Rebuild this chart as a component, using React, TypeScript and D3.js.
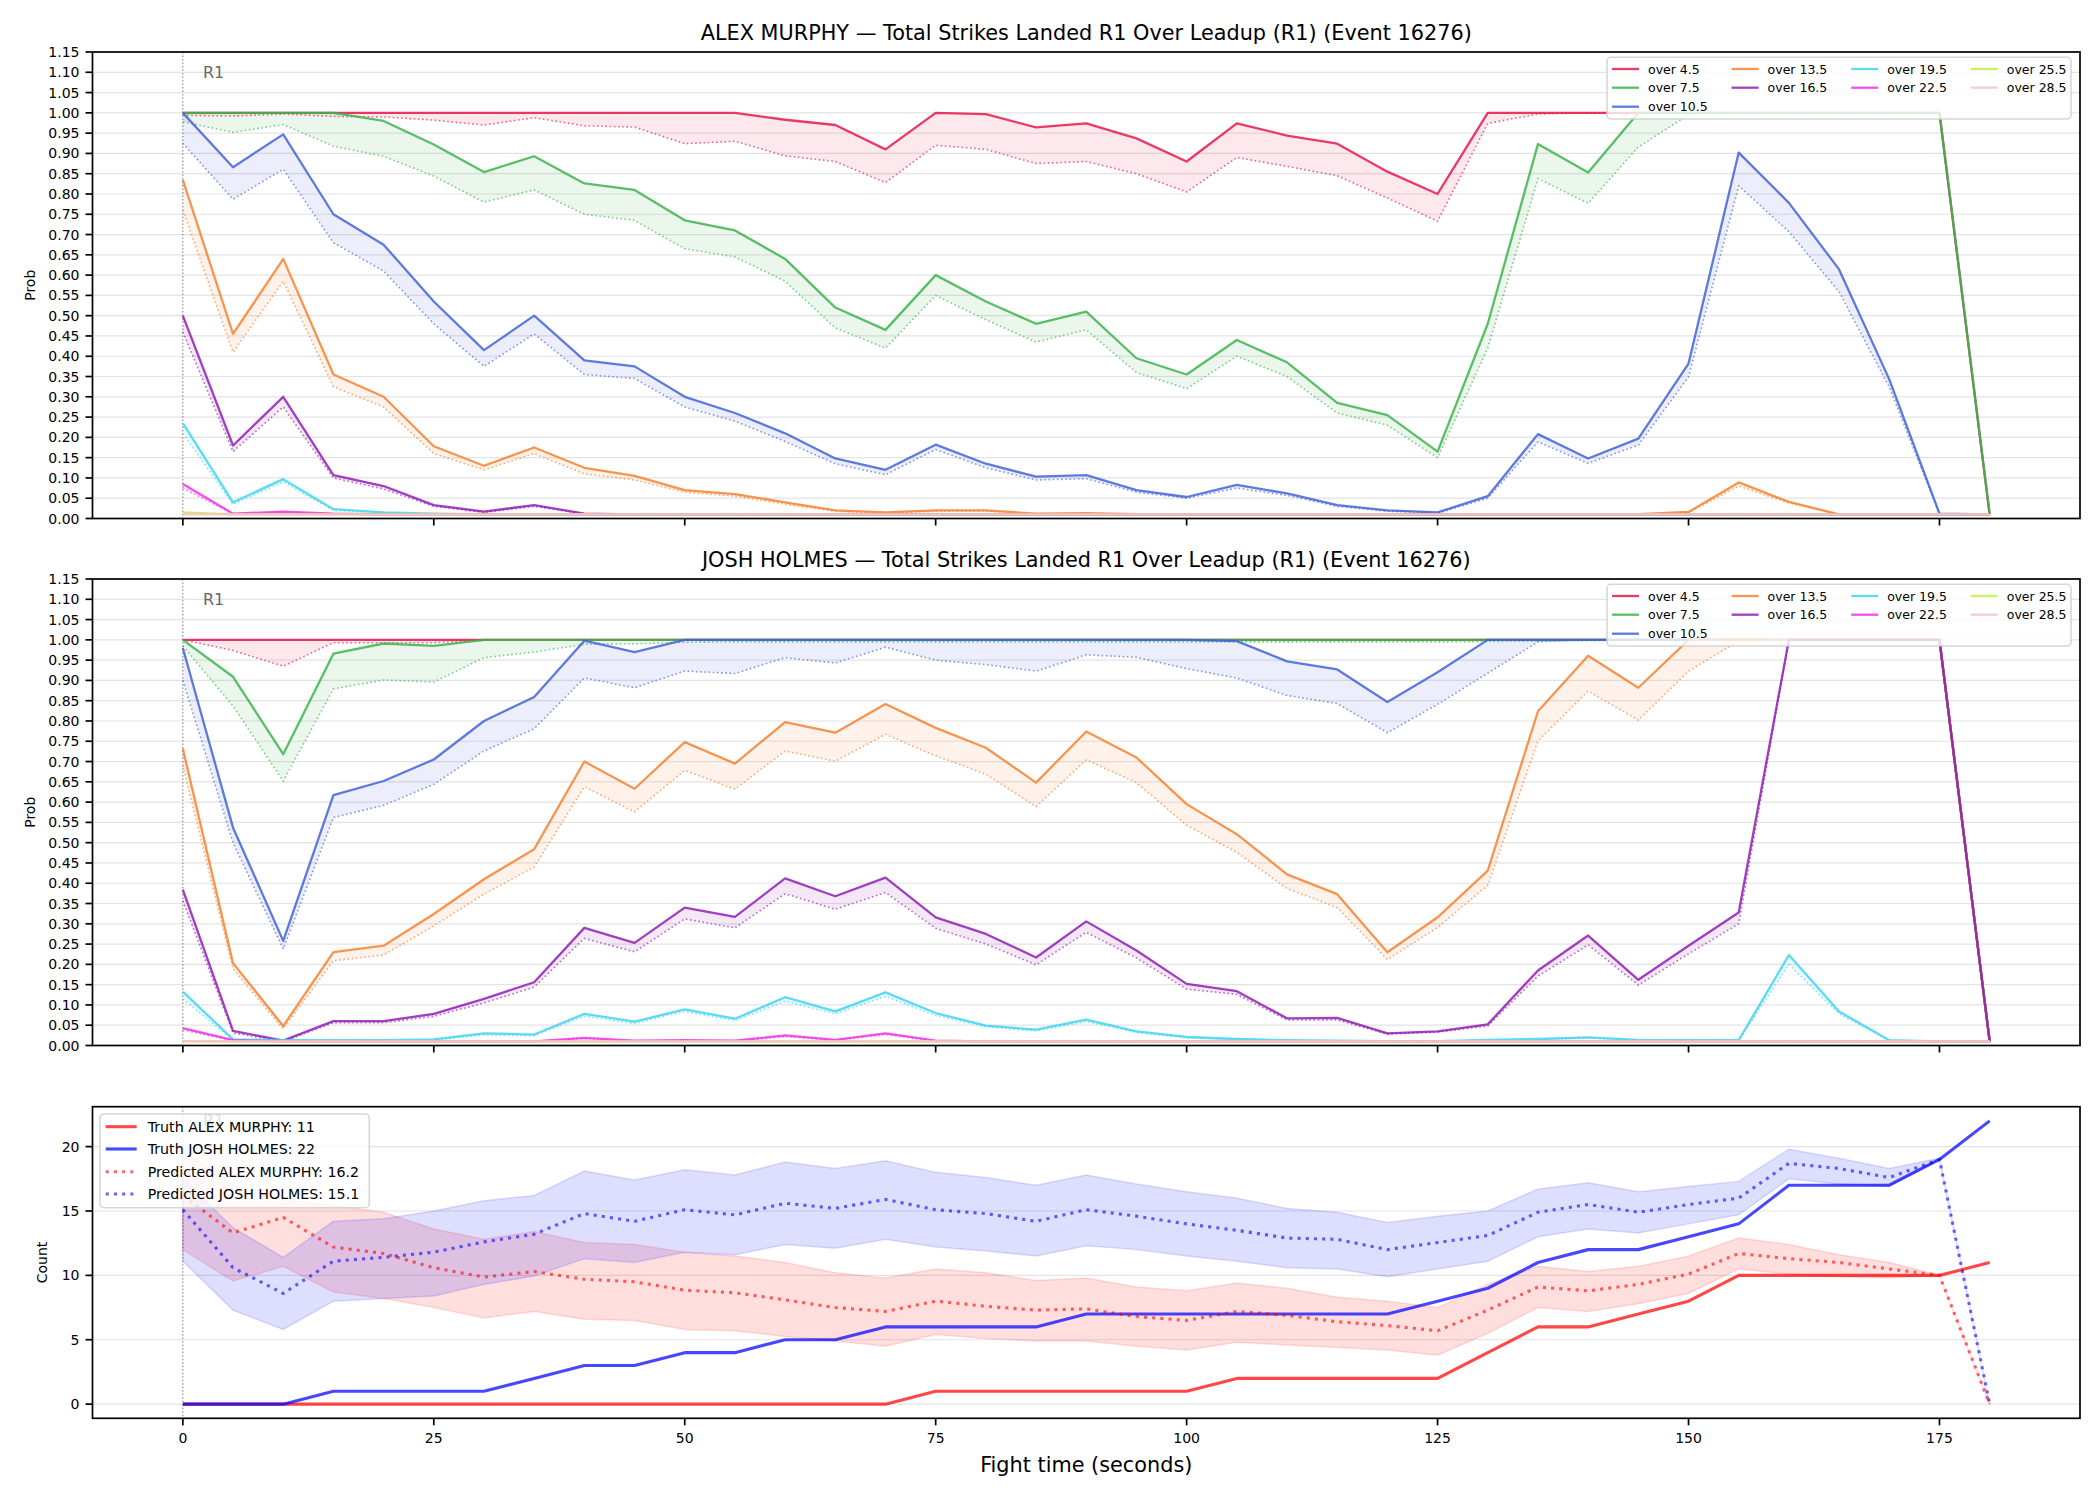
import React from "react";
import * as d3 from "d3";

// ---- sampling grid (seconds into round 1) ----
const times = [0, 5, 10, 15, 20, 25, 30, 35, 40, 45, 50, 55, 60, 65, 70, 75, 80, 85, 90, 95, 100, 105, 110, 115, 120, 125, 130, 135, 140, 145, 150, 155, 160, 165, 170, 175, 180];

const thresholdLabels = ["over 4.5", "over 7.5", "over 10.5", "over 13.5", "over 16.5", "over 19.5", "over 22.5", "over 25.5", "over 28.5"];
const thresholdColors = ["#e6194b", "#3cb44b", "#4363d8", "#f58231", "#911eb4", "#42d4f4", "#f032e6", "#bfef45", "#fabed4"];

const probTicks = [0, 0.05, 0.1, 0.15, 0.2, 0.25, 0.3, 0.35, 0.4, 0.45, 0.5, 0.55, 0.6, 0.65, 0.7, 0.75, 0.8, 0.85, 0.9, 0.95, 1.0, 1.05, 1.1, 1.15];
const countTicks = [0, 5, 10, 15, 20];
const timeTicks = [0, 25, 50, 75, 100, 125, 150, 175];

// ---- ALEX MURPHY: P(over line) and lower bound ----
const murphyOver45 = [1, 1, 1, 1, 1, 1, 1, 1, 1, 1, 1, 1, 0.983, 0.97, 0.91, 1, 0.997, 0.964, 0.974, 0.937, 0.88, 0.974, 0.944, 0.924, 0.855, 0.8, 1, 1, 1, 1, 1, 1, 1, 1, 1, 1, 0.01];
const murphyOver45Lo = [0.994, 0.992, 0.997, 0.991, 0.99, 0.982, 0.97, 0.988, 0.968, 0.965, 0.924, 0.93, 0.894, 0.88, 0.828, 0.92, 0.91, 0.875, 0.88, 0.85, 0.805, 0.89, 0.868, 0.845, 0.79, 0.733, 0.974, 0.997, 1, 1, 1, 1, 1, 1, 1, 1, 0.01];
const murphyOver75 = [1, 1, 1, 1, 0.98, 0.922, 0.854, 0.893, 0.826, 0.81, 0.735, 0.71, 0.64, 0.52, 0.465, 0.6, 0.535, 0.48, 0.51, 0.395, 0.355, 0.44, 0.385, 0.285, 0.255, 0.165, 0.48, 0.923, 0.853, 1, 1, 1, 1, 1, 1, 1, 0.01];
const murphyOver75Lo = [0.978, 0.952, 0.971, 0.918, 0.893, 0.844, 0.78, 0.81, 0.75, 0.735, 0.665, 0.645, 0.585, 0.47, 0.42, 0.55, 0.49, 0.435, 0.465, 0.36, 0.32, 0.4, 0.35, 0.26, 0.23, 0.15, 0.42, 0.838, 0.777, 0.916, 0.995, 1, 1, 1, 1, 1, 0.01];
const murphyOver105 = [1, 0.866, 0.947, 0.75, 0.675, 0.535, 0.415, 0.5, 0.39, 0.375, 0.3, 0.26, 0.21, 0.148, 0.12, 0.182, 0.135, 0.103, 0.107, 0.07, 0.053, 0.083, 0.062, 0.033, 0.02, 0.015, 0.055, 0.208, 0.148, 0.197, 0.382, 0.902, 0.778, 0.614, 0.343, 0.012, 0.01];
const murphyOver105Lo = [0.925, 0.787, 0.861, 0.68, 0.61, 0.48, 0.375, 0.455, 0.355, 0.345, 0.275, 0.24, 0.19, 0.135, 0.108, 0.17, 0.125, 0.095, 0.098, 0.065, 0.05, 0.075, 0.057, 0.03, 0.018, 0.013, 0.05, 0.189, 0.136, 0.181, 0.349, 0.82, 0.707, 0.559, 0.324, 0.011, 0.01];
const murphyOver135 = [0.835, 0.455, 0.64, 0.355, 0.3, 0.178, 0.13, 0.175, 0.125, 0.105, 0.07, 0.06, 0.04, 0.02, 0.015, 0.02, 0.02, 0.012, 0.013, 0.011, 0.011, 0.011, 0.01, 0.01, 0.01, 0.01, 0.01, 0.01, 0.01, 0.011, 0.016, 0.089, 0.041, 0.01, 0.01, 0.01, 0.01];
const murphyOver135Lo = [0.76, 0.41, 0.585, 0.325, 0.275, 0.16, 0.12, 0.16, 0.11, 0.095, 0.065, 0.055, 0.035, 0.018, 0.013, 0.018, 0.018, 0.011, 0.012, 0.01, 0.01, 0.01, 0.01, 0.01, 0.01, 0.01, 0.01, 0.01, 0.01, 0.01, 0.014, 0.08, 0.038, 0.01, 0.01, 0.01, 0.01];
const murphyOver165 = [0.5, 0.18, 0.3, 0.107, 0.08, 0.033, 0.017, 0.033, 0.012, 0.01, 0.01, 0.01, 0.01, 0.01, 0.01, 0.01, 0.01, 0.01, 0.01, 0.01, 0.01, 0.01, 0.01, 0.01, 0.01, 0.01, 0.01, 0.01, 0.01, 0.01, 0.01, 0.01, 0.01, 0.01, 0.01, 0.01, 0.01];
const murphyOver165Lo = [0.46, 0.165, 0.275, 0.1, 0.073, 0.03, 0.015, 0.03, 0.011, 0.01, 0.01, 0.01, 0.01, 0.01, 0.01, 0.01, 0.01, 0.01, 0.01, 0.01, 0.01, 0.01, 0.01, 0.01, 0.01, 0.01, 0.01, 0.01, 0.01, 0.01, 0.01, 0.01, 0.01, 0.01, 0.01, 0.01, 0.01];
const murphyOver195 = [0.235, 0.04, 0.097, 0.023, 0.015, 0.012, 0.01, 0.01, 0.01, 0.01, 0.01, 0.01, 0.01, 0.01, 0.01, 0.01, 0.01, 0.01, 0.01, 0.01, 0.01, 0.01, 0.01, 0.01, 0.01, 0.01, 0.01, 0.01, 0.01, 0.01, 0.01, 0.01, 0.01, 0.01, 0.01, 0.01, 0.01];
const murphyOver195Lo = [0.21, 0.035, 0.09, 0.02, 0.013, 0.011, 0.01, 0.01, 0.01, 0.01, 0.01, 0.01, 0.01, 0.01, 0.01, 0.01, 0.01, 0.01, 0.01, 0.01, 0.01, 0.01, 0.01, 0.01, 0.01, 0.01, 0.01, 0.01, 0.01, 0.01, 0.01, 0.01, 0.01, 0.01, 0.01, 0.01, 0.01];
const murphyOver225 = [0.085, 0.012, 0.017, 0.012, 0.01, 0.01, 0.01, 0.01, 0.01, 0.01, 0.01, 0.01, 0.01, 0.01, 0.01, 0.01, 0.01, 0.01, 0.01, 0.01, 0.01, 0.01, 0.01, 0.01, 0.01, 0.01, 0.01, 0.01, 0.01, 0.01, 0.01, 0.01, 0.01, 0.01, 0.01, 0.01, 0.01];
const murphyOver225Lo = [0.075, 0.011, 0.015, 0.011, 0.01, 0.01, 0.01, 0.01, 0.01, 0.01, 0.01, 0.01, 0.01, 0.01, 0.01, 0.01, 0.01, 0.01, 0.01, 0.01, 0.01, 0.01, 0.01, 0.01, 0.01, 0.01, 0.01, 0.01, 0.01, 0.01, 0.01, 0.01, 0.01, 0.01, 0.01, 0.01, 0.01];
const murphyOver255 = [0.015, 0.01, 0.01, 0.01, 0.01, 0.01, 0.01, 0.01, 0.01, 0.01, 0.01, 0.01, 0.01, 0.01, 0.01, 0.01, 0.01, 0.01, 0.01, 0.01, 0.01, 0.01, 0.01, 0.01, 0.01, 0.01, 0.01, 0.01, 0.01, 0.01, 0.01, 0.01, 0.01, 0.01, 0.01, 0.01, 0.01];
const murphyOver255Lo = [0.013, 0.01, 0.01, 0.01, 0.01, 0.01, 0.01, 0.01, 0.01, 0.01, 0.01, 0.01, 0.01, 0.01, 0.01, 0.01, 0.01, 0.01, 0.01, 0.01, 0.01, 0.01, 0.01, 0.01, 0.01, 0.01, 0.01, 0.01, 0.01, 0.01, 0.01, 0.01, 0.01, 0.01, 0.01, 0.01, 0.01];
const murphyOver285 = [0.01, 0.01, 0.01, 0.01, 0.01, 0.01, 0.01, 0.01, 0.01, 0.01, 0.01, 0.01, 0.01, 0.01, 0.01, 0.01, 0.01, 0.01, 0.01, 0.01, 0.01, 0.01, 0.01, 0.01, 0.01, 0.01, 0.01, 0.01, 0.01, 0.01, 0.01, 0.01, 0.01, 0.01, 0.01, 0.01, 0.01];
const murphyOver285Lo = [0.01, 0.01, 0.01, 0.01, 0.01, 0.01, 0.01, 0.01, 0.01, 0.01, 0.01, 0.01, 0.01, 0.01, 0.01, 0.01, 0.01, 0.01, 0.01, 0.01, 0.01, 0.01, 0.01, 0.01, 0.01, 0.01, 0.01, 0.01, 0.01, 0.01, 0.01, 0.01, 0.01, 0.01, 0.01, 0.01, 0.01];

// ---- JOSH HOLMES: P(over line) and lower bound ----
const holmesOver45 = [1, 1, 1, 1, 1, 1, 1, 1, 1, 1, 1, 1, 1, 1, 1, 1, 1, 1, 1, 1, 1, 1, 1, 1, 1, 1, 1, 1, 1, 1, 1, 1, 1, 1, 1, 1, 0.01];
const holmesOver45Lo = [1, 0.974, 0.935, 0.993, 0.993, 0.993, 0.999, 1, 1, 1, 1, 1, 1, 1, 1, 1, 1, 1, 1, 1, 1, 1, 1, 1, 1, 1, 1, 1, 1, 1, 1, 1, 1, 1, 1, 1, 0.01];
const holmesOver75 = [1, 0.909, 0.718, 0.966, 0.991, 0.985, 1, 1, 1, 1, 1, 1, 1, 1, 1, 1, 1, 1, 1, 1, 1, 1, 1, 1, 1, 1, 1, 1, 1, 1, 1, 1, 1, 1, 1, 1, 0.01];
const holmesOver75Lo = [0.985, 0.837, 0.652, 0.879, 0.901, 0.896, 0.956, 0.97, 0.989, 0.99, 0.994, 0.995, 0.995, 0.995, 0.995, 0.995, 0.995, 0.995, 0.995, 0.995, 0.995, 0.995, 0.995, 0.995, 0.995, 0.995, 0.996, 0.997, 0.998, 0.999, 1, 1, 1, 1, 1, 1, 0.01];
const holmesOver105 = [0.98, 0.537, 0.258, 0.617, 0.652, 0.705, 0.8, 0.859, 0.998, 0.97, 1, 1, 1, 1, 1, 1, 1, 1, 1, 1, 1, 0.997, 0.947, 0.927, 0.847, 0.92, 1, 1, 1, 1, 1, 1, 1, 1, 1, 1, 0.01];
const holmesOver105Lo = [0.9, 0.5, 0.238, 0.562, 0.592, 0.644, 0.726, 0.781, 0.906, 0.882, 0.923, 0.917, 0.956, 0.943, 0.982, 0.95, 0.939, 0.923, 0.963, 0.957, 0.929, 0.906, 0.863, 0.843, 0.771, 0.841, 0.918, 0.995, 1, 1, 1, 1, 1, 1, 1, 1, 0.01];
const holmesOver135 = [0.732, 0.203, 0.048, 0.23, 0.246, 0.324, 0.41, 0.484, 0.7, 0.633, 0.748, 0.695, 0.797, 0.771, 0.842, 0.783, 0.734, 0.648, 0.774, 0.71, 0.595, 0.521, 0.422, 0.373, 0.23, 0.316, 0.431, 0.824, 0.961, 0.882, 1, 1, 1, 1, 1, 1, 0.01];
const holmesOver135Lo = [0.69, 0.189, 0.041, 0.209, 0.223, 0.295, 0.373, 0.44, 0.638, 0.576, 0.678, 0.632, 0.726, 0.701, 0.767, 0.714, 0.669, 0.589, 0.704, 0.648, 0.543, 0.476, 0.387, 0.34, 0.212, 0.291, 0.395, 0.751, 0.874, 0.802, 0.923, 0.997, 1, 1, 1, 1, 0.01];
const holmesOver165 = [0.384, 0.036, 0.012, 0.06, 0.06, 0.078, 0.115, 0.156, 0.29, 0.253, 0.34, 0.317, 0.412, 0.368, 0.414, 0.316, 0.275, 0.217, 0.306, 0.234, 0.152, 0.134, 0.067, 0.068, 0.03, 0.035, 0.052, 0.185, 0.271, 0.162, 0.246, 0.328, 1, 1, 1, 1, 0.01];
const holmesOver165Lo = [0.357, 0.031, 0.01, 0.056, 0.056, 0.072, 0.105, 0.144, 0.264, 0.231, 0.312, 0.29, 0.374, 0.336, 0.377, 0.289, 0.25, 0.199, 0.279, 0.216, 0.139, 0.126, 0.063, 0.063, 0.028, 0.033, 0.048, 0.171, 0.248, 0.149, 0.226, 0.3, 1, 1, 1, 1, 0.01];
const holmesOver195 = [0.133, 0.015, 0.013, 0.013, 0.013, 0.015, 0.03, 0.027, 0.078, 0.059, 0.089, 0.066, 0.119, 0.084, 0.131, 0.08, 0.049, 0.039, 0.064, 0.035, 0.021, 0.016, 0.013, 0.012, 0.011, 0.011, 0.014, 0.016, 0.02, 0.014, 0.013, 0.013, 0.223, 0.084, 0.013, 0.01, 0.01];
const holmesOver195Lo = [0.115, 0.013, 0.011, 0.012, 0.012, 0.013, 0.026, 0.024, 0.072, 0.054, 0.084, 0.061, 0.109, 0.078, 0.121, 0.074, 0.046, 0.036, 0.059, 0.032, 0.019, 0.015, 0.012, 0.011, 0.01, 0.01, 0.013, 0.015, 0.018, 0.013, 0.012, 0.012, 0.2, 0.078, 0.012, 0.01, 0.01];
const holmesOver225 = [0.043, 0.013, 0.01, 0.01, 0.01, 0.01, 0.01, 0.01, 0.019, 0.012, 0.013, 0.012, 0.025, 0.014, 0.03, 0.012, 0.01, 0.01, 0.01, 0.01, 0.01, 0.01, 0.01, 0.01, 0.01, 0.01, 0.01, 0.01, 0.01, 0.01, 0.01, 0.01, 0.01, 0.01, 0.01, 0.01, 0.01];
const holmesOver225Lo = [0.038, 0.012, 0.01, 0.01, 0.01, 0.01, 0.01, 0.01, 0.017, 0.011, 0.012, 0.011, 0.022, 0.013, 0.027, 0.011, 0.01, 0.01, 0.01, 0.01, 0.01, 0.01, 0.01, 0.01, 0.01, 0.01, 0.01, 0.01, 0.01, 0.01, 0.01, 0.01, 0.01, 0.01, 0.01, 0.01, 0.01];
const holmesOver255 = [0.011, 0.01, 0.01, 0.01, 0.01, 0.01, 0.01, 0.01, 0.01, 0.01, 0.01, 0.01, 0.01, 0.01, 0.01, 0.01, 0.01, 0.01, 0.01, 0.01, 0.01, 0.01, 0.01, 0.01, 0.01, 0.01, 0.01, 0.01, 0.01, 0.01, 0.01, 0.01, 0.01, 0.01, 0.01, 0.01, 0.01];
const holmesOver255Lo = [0.01, 0.01, 0.01, 0.01, 0.01, 0.01, 0.01, 0.01, 0.01, 0.01, 0.01, 0.01, 0.01, 0.01, 0.01, 0.01, 0.01, 0.01, 0.01, 0.01, 0.01, 0.01, 0.01, 0.01, 0.01, 0.01, 0.01, 0.01, 0.01, 0.01, 0.01, 0.01, 0.01, 0.01, 0.01, 0.01, 0.01];
const holmesOver285 = [0.01, 0.01, 0.01, 0.01, 0.01, 0.01, 0.01, 0.01, 0.01, 0.01, 0.01, 0.01, 0.01, 0.01, 0.01, 0.01, 0.01, 0.01, 0.01, 0.01, 0.01, 0.01, 0.01, 0.01, 0.01, 0.01, 0.01, 0.01, 0.01, 0.01, 0.01, 0.01, 0.01, 0.01, 0.01, 0.01, 0.01];
const holmesOver285Lo = [0.01, 0.01, 0.01, 0.01, 0.01, 0.01, 0.01, 0.01, 0.01, 0.01, 0.01, 0.01, 0.01, 0.01, 0.01, 0.01, 0.01, 0.01, 0.01, 0.01, 0.01, 0.01, 0.01, 0.01, 0.01, 0.01, 0.01, 0.01, 0.01, 0.01, 0.01, 0.01, 0.01, 0.01, 0.01, 0.01, 0.01];

// ---- strike counts: truth, predicted and predicted band ----
const truthMurphy = [0, 0, 0, 0, 0, 0, 0, 0, 0, 0, 0, 0, 0, 0, 0, 1, 1, 1, 1, 1, 1, 2, 2, 2, 2, 2, 4, 6, 6, 7, 8, 10, 10, 10, 10, 10, 11];
const truthHolmes = [0, 0, 0, 1, 1, 1, 1, 2, 3, 3, 4, 4, 5, 5, 6, 6, 6, 6, 7, 7, 7, 7, 7, 7, 7, 8, 9, 11, 12, 12, 13, 14, 17, 17, 17, 19, 22];
const predMurphy = [16.2, 13.3, 14.5, 12.2, 11.7, 10.6, 9.87, 10.3, 9.7, 9.5, 8.85, 8.65, 8.1, 7.5, 7.2, 8.0, 7.6, 7.3, 7.4, 6.8, 6.5, 7.2, 6.9, 6.4, 6.1, 5.7, 7.3, 9.1, 8.8, 9.3, 10.1, 11.7, 11.3, 11.0, 10.5, 10.0, 0];
const predMurphyHi = [19.8, 17.0, 15.9, 15.4, 14.9, 13.6, 12.8, 13.4, 12.55, 12.4, 11.8, 11.5, 11.0, 10.2, 9.8, 10.5, 10.2, 9.6, 9.8, 9.1, 8.8, 9.4, 9.0, 8.3, 8.0, 7.5, 9.3, 10.7, 10.3, 10.7, 11.5, 12.9, 12.4, 11.6, 11.0, 10.0, 0];
const predMurphyLo = [12.0, 9.56, 10.7, 8.7, 8.2, 7.5, 6.7, 7.2, 6.6, 6.5, 5.8, 5.7, 5.26, 4.9, 4.5, 5.4, 5.1, 4.9, 4.9, 4.5, 4.2, 4.8, 4.6, 4.4, 4.2, 3.8, 5.5, 7.5, 7.2, 7.8, 8.6, 10.5, 10.1, 9.9, 9.8, 10.0, 0];
const predHolmes = [15.1, 10.6, 8.6, 11.1, 11.4, 11.8, 12.6, 13.2, 14.8, 14.2, 15.1, 14.7, 15.6, 15.2, 15.9, 15.1, 14.8, 14.2, 15.1, 14.6, 14.0, 13.5, 12.9, 12.8, 12.0, 12.55, 13.1, 14.9, 15.5, 14.9, 15.5, 16.0, 18.7, 18.3, 17.6, 19.0, 0];
const predHolmesHi = [17.5, 13.7, 11.4, 14.2, 14.4, 15.0, 15.8, 16.2, 18.1, 17.4, 18.2, 17.8, 18.8, 18.3, 18.9, 18.0, 17.6, 17.0, 17.8, 17.1, 16.5, 16.0, 15.2, 14.9, 14.1, 14.6, 15.0, 16.7, 17.2, 16.5, 16.9, 17.3, 19.8, 19.1, 18.3, 19.1, 0];
const predHolmesLo = [11.1, 7.3, 5.8, 8.0, 8.2, 8.4, 9.3, 9.95, 11.3, 11.0, 11.8, 11.6, 12.4, 12.1, 12.8, 12.2, 11.9, 11.5, 12.3, 12.0, 11.5, 11.1, 10.6, 10.5, 9.9, 10.5, 11.1, 13.0, 13.6, 13.3, 14.0, 14.7, 17.5, 17.1, 16.9, 19.0, 0];

const murphyHi = [murphyOver45, murphyOver75, murphyOver105, murphyOver135, murphyOver165, murphyOver195, murphyOver225, murphyOver255, murphyOver285];
const murphyLo = [murphyOver45Lo, murphyOver75Lo, murphyOver105Lo, murphyOver135Lo, murphyOver165Lo, murphyOver195Lo, murphyOver225Lo, murphyOver255Lo, murphyOver285Lo];
const holmesHi = [holmesOver45, holmesOver75, holmesOver105, holmesOver135, holmesOver165, holmesOver195, holmesOver225, holmesOver255, holmesOver285];
const holmesLo = [holmesOver45Lo, holmesOver75Lo, holmesOver105Lo, holmesOver135Lo, holmesOver165Lo, holmesOver195Lo, holmesOver225Lo, holmesOver255Lo, holmesOver285Lo];

// ---- layout ----
const FONT = "'DejaVu Sans', sans-serif";
const AX_LEFT = 92.5;
const AX_RIGHT = 2080;
const TICK_LEN = 7;
const SPINE_W = 1.7;
const TICK_FS = 14;

const x = d3.scaleLinear().domain([-9, 189]).range([AX_LEFT, AX_RIGHT]);

function XTicks({ bottom, labels }: { bottom: number; labels: boolean }) {
  return (
    <g>
      {timeTicks.map((t) => (
        <g key={t}>
          <line x1={x(t)} x2={x(t)} y1={bottom} y2={bottom + TICK_LEN} stroke="#000" strokeWidth={SPINE_W} />
          {labels && (
            <text x={x(t)} y={bottom + TICK_LEN + 7} textAnchor="middle" dominantBaseline="hanging" fontSize={TICK_FS} fontFamily={FONT} fill="#000">
              {t}
            </text>
          )}
        </g>
      ))}
    </g>
  );
}

function Frame({ top, bottom }: { top: number; bottom: number }) {
  return <rect x={AX_LEFT} y={top} width={AX_RIGHT - AX_LEFT} height={bottom - top} fill="none" stroke="#000" strokeWidth={SPINE_W} />;
}

function RoundMarker({ top, bottom }: { top: number; bottom: number }) {
  const yLab = bottom - 0.957 * (bottom - top);
  return (
    <g>
      <line x1={x(0)} x2={x(0)} y1={top} y2={bottom} stroke="#555" strokeOpacity={0.8} strokeWidth={1} strokeDasharray="1.5 2" />
      <text x={x(2)} y={yLab} dominantBaseline="central" fontSize={16} fontFamily={FONT} fill="#666">R1</text>
    </g>
  );
}

function ProbPanel({ top, bottom, title, hi, lo }: { top: number; bottom: number; title: string; hi: number[][]; lo: number[][] }) {
  const y = d3.scaleLinear().domain([0, 1.15]).range([bottom, top]);
  const line = d3.line<number>().x((_, i) => x(times[i])).y((v) => y(v));
  const band = (h: number[], l: number[]) =>
    d3.area<number>().x((_, i) => x(times[i])).y0((_, i) => y(l[i])).y1((v) => y(v))(h) as string;

  // legend: 4 columns, column-major, 3 rows
  const colStart = [0, 3, 5, 7];
  const legLeft = 1607;
  const legTop = top + 5.3;
  const rowY = [11.7, 30.4, 49.4];
  const colStride = 119.6;

  return (
    <g>
      <text x={(AX_LEFT + AX_RIGHT) / 2} y={top - 12.5} textAnchor="middle" fontSize={20.8} fontFamily={FONT} fill="#000">{title}</text>
      {probTicks.map((v) => (
        <line key={v} x1={AX_LEFT} x2={AX_RIGHT} y1={y(v)} y2={y(v)} stroke="#b0b0b0" strokeOpacity={0.35} strokeWidth={1.2} />
      ))}
      <RoundMarker top={top} bottom={bottom} />
      {hi.map((h, k) => (
        <g key={k}>
          <path d={band(h, lo[k])} fill={thresholdColors[k]} fillOpacity={0.1} stroke="none" />
          <path d={line(h) as string} fill="none" stroke={thresholdColors[k]} strokeOpacity={0.85} strokeWidth={2.3} strokeLinejoin="round" />
          <path d={line(lo[k]) as string} fill="none" stroke={thresholdColors[k]} strokeOpacity={0.65} strokeWidth={1.6} strokeDasharray="1.6 2.6" />
        </g>
      ))}
      <Frame top={top} bottom={bottom} />
      {probTicks.map((v) => (
        <g key={v}>
          <line x1={AX_LEFT - TICK_LEN} x2={AX_LEFT} y1={y(v)} y2={y(v)} stroke="#000" strokeWidth={SPINE_W} />
          <text x={AX_LEFT - TICK_LEN - 6} y={y(v)} textAnchor="end" dominantBaseline="central" fontSize={TICK_FS} fontFamily={FONT} fill="#000">
            {v.toFixed(2)}
          </text>
        </g>
      ))}
      <text transform={`translate(30, ${(top + bottom) / 2}) rotate(-90)`} textAnchor="middle" dominantBaseline="central" fontSize={14} fontFamily={FONT} fill="#000">Prob</text>
      <XTicks bottom={bottom} labels={false} />
      <g>
        <rect x={legLeft} y={legTop} width={464} height={61.7} rx={4} fill="#fff" fillOpacity={0.8} stroke="#cccccc" strokeOpacity={0.8} strokeWidth={1.6} />
        {thresholdLabels.map((lab, k) => {
          let col = 0;
          for (let c = 0; c < colStart.length; c++) if (k >= colStart[c]) col = c;
          const row = k - colStart[col];
          const hx = legLeft + 5 + col * colStride;
          const yy = legTop + rowY[row];
          return (
            <g key={lab}>
              <line x1={hx} x2={hx + 27} y1={yy} y2={yy} stroke={thresholdColors[k]} strokeOpacity={0.85} strokeWidth={2.3} />
              <text x={hx + 36} y={yy} dominantBaseline="central" fontSize={12.5} fontFamily={FONT} fill="#000">{lab}</text>
            </g>
          );
        })}
      </g>
    </g>
  );
}

function CountPanel({ top, bottom }: { top: number; bottom: number }) {
  const y = d3.scaleLinear().domain([-1.1, 23.1]).range([bottom, top]);
  const line = d3.line<number>().x((_, i) => x(times[i])).y((v) => y(v));
  const band = (h: number[], l: number[]) =>
    d3.area<number>().x((_, i) => x(times[i])).y0((_, i) => y(l[i])).y1((v) => y(v))(h) as string;

  const legend = [
    { label: `Truth ALEX MURPHY: ${truthMurphy[truthMurphy.length - 1]}`, color: "#ff0000", dotted: false },
    { label: `Truth JOSH HOLMES: ${truthHolmes[truthHolmes.length - 1]}`, color: "#0000ff", dotted: false },
    { label: `Predicted ALEX MURPHY: ${predMurphy[0].toFixed(1)}`, color: "#ff0000", dotted: true },
    { label: `Predicted JOSH HOLMES: ${predHolmes[0].toFixed(1)}`, color: "#0000ff", dotted: true },
  ];
  const legTop = 1114;
  const rowY = [12.7, 35, 57.7, 80];

  return (
    <g>
      {countTicks.map((v) => (
        <line key={v} x1={AX_LEFT} x2={AX_RIGHT} y1={y(v)} y2={y(v)} stroke="#b0b0b0" strokeOpacity={0.35} strokeWidth={1.2} />
      ))}
      <RoundMarker top={top} bottom={bottom} />
      <path d={band(predMurphyHi, predMurphyLo)} fill="#ff0000" fillOpacity={0.13} stroke="#ff0000" strokeOpacity={0.13} strokeWidth={1.5} />
      <path d={band(predHolmesHi, predHolmesLo)} fill="#0000ff" fillOpacity={0.13} stroke="#0000ff" strokeOpacity={0.13} strokeWidth={1.5} />
      <path d={line(truthMurphy) as string} fill="none" stroke="#ff0000" strokeOpacity={0.72} strokeWidth={3.1} strokeLinejoin="round" />
      <path d={line(truthHolmes) as string} fill="none" stroke="#0000ff" strokeOpacity={0.72} strokeWidth={3.1} strokeLinejoin="round" />
      <path d={line(predMurphy) as string} fill="none" stroke="#ff0000" strokeOpacity={0.6} strokeWidth={3.1} strokeDasharray="3.1 5.1" />
      <path d={line(predHolmes) as string} fill="none" stroke="#0000ff" strokeOpacity={0.6} strokeWidth={3.1} strokeDasharray="3.1 5.1" />
      <Frame top={top} bottom={bottom} />
      {countTicks.map((v) => (
        <g key={v}>
          <line x1={AX_LEFT - TICK_LEN} x2={AX_LEFT} y1={y(v)} y2={y(v)} stroke="#000" strokeWidth={SPINE_W} />
          <text x={AX_LEFT - TICK_LEN - 6} y={y(v)} textAnchor="end" dominantBaseline="central" fontSize={TICK_FS} fontFamily={FONT} fill="#000">{v}</text>
        </g>
      ))}
      <text transform={`translate(42, ${(top + bottom) / 2}) rotate(-90)`} textAnchor="middle" dominantBaseline="central" fontSize={14} fontFamily={FONT} fill="#000">Count</text>
      <XTicks bottom={bottom} labels={true} />
      <text x={(AX_LEFT + AX_RIGHT) / 2} y={1472} textAnchor="middle" fontSize={20.8} fontFamily={FONT} fill="#000">Fight time (seconds)</text>
      <g>
        <rect x={100} y={legTop} width={269.3} height={93.7} rx={4} fill="#fff" fillOpacity={0.8} stroke="#cccccc" strokeOpacity={0.8} strokeWidth={1.6} />
        {legend.map((e, k) => {
          const yy = legTop + rowY[k];
          return (
            <g key={e.label}>
              <line x1={105.7} x2={136.7} y1={yy} y2={yy} stroke={e.color} strokeOpacity={e.dotted ? 0.6 : 0.72} strokeWidth={3.1} strokeDasharray={e.dotted ? "3.1 5.1" : undefined} />
              <text x={147.7} y={yy} dominantBaseline="central" fontSize={14.2} fontFamily={FONT} fill="#000">{e.label}</text>
            </g>
          );
        })}
      </g>
    </g>
  );
}

export default function App() {
  return (
    <svg width={2100} height={1500} viewBox="0 0 2100 1500" style={{ position: "absolute", left: 0, top: 0, background: "#fff" }}>
      <rect x={0} y={0} width={2100} height={1500} fill="#fff" />
      <ProbPanel top={52} bottom={518.5} title="ALEX MURPHY — Total Strikes Landed R1 Over Leadup (R1) (Event 16276)" hi={murphyHi} lo={murphyLo} />
      <ProbPanel top={579} bottom={1045.5} title="JOSH HOLMES — Total Strikes Landed R1 Over Leadup (R1) (Event 16276)" hi={holmesHi} lo={holmesLo} />
      <CountPanel top={1106.7} bottom={1418.3} />
    </svg>
  );
}
